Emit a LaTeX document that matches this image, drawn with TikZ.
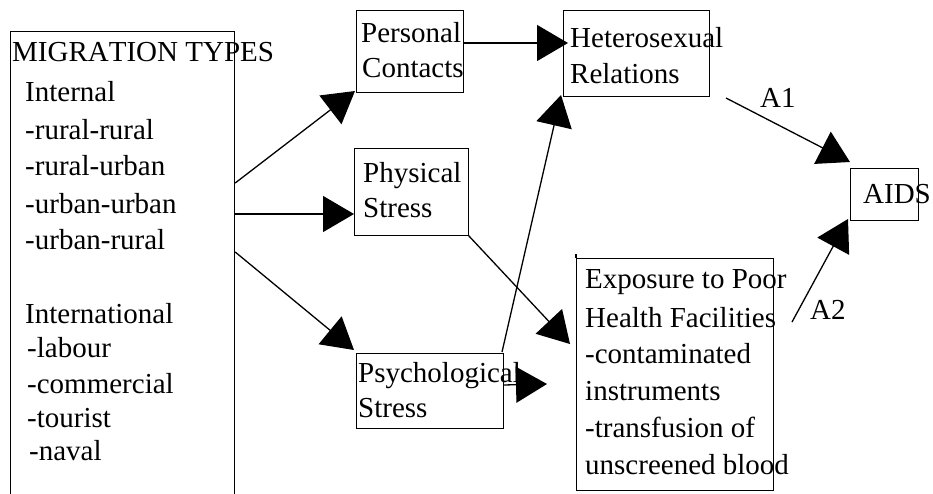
\documentclass[tikz,border=0pt]{standalone}
\usepackage{fontspec}
\setmainfont[Kerning=Off]{Liberation Serif}
\usetikzlibrary{arrows.meta}
\tikzset{
  boxst/.style={draw, line width=1.2pt, inner sep=0pt, anchor=north west},
  txt/.style={inner sep=0pt, anchor=base west, font=\fontsize{29}{34}\selectfont},
  conn/.style={line width=1.3pt, -{Triangle[length=31pt,width=36pt]}},
}
\begin{document}
\begin{tikzpicture}[x=1pt,y=-1pt]
\useasboundingbox (0,0) rectangle (933,493);
\clip (0,0) rectangle (933,493);
% boxes
\node[boxst, minimum width=224.5pt, minimum height=480pt] (mig) at (9.5,31) {};
\node[boxst, minimum width=107pt, minimum height=82pt] (pc) at (356,10) {};
\node[boxst, minimum width=146pt, minimum height=86pt] (het) at (563,10) {};
\node[boxst, minimum width=114pt, minimum height=87pt] (phy) at (354,148) {};
\node[boxst, minimum width=147pt, minimum height=75pt] (psy) at (356,353) {};
\node[boxst, minimum width=197pt, minimum height=232pt] (exp) at (576,258) {};
\node[boxst, minimum width=68pt, minimum height=52pt] (aids) at (850,168) {};
\draw[line width=1.2pt] (exp.north west) -- ++(0,-4);
% texts
\node[txt] (t1) at (12,61) {MIGRATION TYPES};
\node[txt] (t2) at (25,101) {Internal};
\node[txt] (t3) at (25,139) {-rural-rural};
\node[txt] (t4) at (25,175) {-rural-urban};
\node[txt] (t5) at (25,213) {-urban-urban};
\node[txt] (t6) at (25,249) {-urban-rural};
\node[txt] (t7) at (25,323) {International};
\node[txt] (t8) at (27,357) {-labour};
\node[txt] (t9) at (27,393) {-commercial};
\node[txt] (t10) at (27,427) {-tourist};
\node[txt] (t11) at (29,460) {-naval};
\node[txt] (p1) at (361,42) {Personal};
\node[txt] (p2) at (362,77) {Contacts};
\node[txt] (h1) at (570,47) {Heterosexual};
\node[txt] (h2) at (570,83) {Relations};
\node[txt] (y1) at (363,182) {Physical};
\node[txt] (y2) at (363,217) {Stress};
\node[txt] (s1) at (358,382) {Psychological};
\node[txt] (s2) at (358,417) {Stress};
\node[txt] (e1) at (585,288) {Exposure to Poor};
\node[txt] (e2) at (585,327) {Health Facilities};
\node[txt] (e3) at (585,363) {-contaminated};
\node[txt] (e4) at (585,400) {instruments};
\node[txt] (e5) at (585,437) {-transfusion of};
\node[txt] (e6) at (585,474) {unscreened blood};
\node[txt] (a0) at (863,203) {AIDS};
\node[txt] (l1) at (760,107) {A1};
\node[txt] (l2) at (810,319) {A2};
% connector end points
\coordinate (m1) at (mig.east |- 0,183);
\coordinate (m2) at (mig.east |- 0,214);
\coordinate (m3) at (mig.east |- 0,252);
\coordinate (pcin) at (355,91);
\coordinate (phyin) at (354,214);
\coordinate (psyin) at (354,350);
\coordinate (pcout) at (463,43);
\coordinate (hetin) at (568,43);
\coordinate (psyout) at (502,352);
\coordinate (hetbot) at (561,95);
\coordinate (phyout) at (468,235);
\coordinate (expin) at (570,344);
\coordinate (psyout2) at (503,385);
\coordinate (expin2) at (547,384);
\coordinate (a1s) at (726,98);
\coordinate (a1e) at (850,162);
\coordinate (a2s) at (792,322);
\coordinate (a2e) at (848,219);
% connectors
\draw[conn] (m1) -- (pcin);
\draw[conn] (m2) -- (phyin);
\draw[conn] (m3) -- (psyin);
\draw[conn] (pcout) -- (hetin);
\draw[conn] (psyout) -- (hetbot);
\draw[conn] (phyout) -- (expin);
\draw[conn] (psyout2) -- (expin2);
\draw[conn] (a1s) -- (a1e);
\draw[conn] (a2s) -- (a2e);
\end{tikzpicture}
\end{document}
